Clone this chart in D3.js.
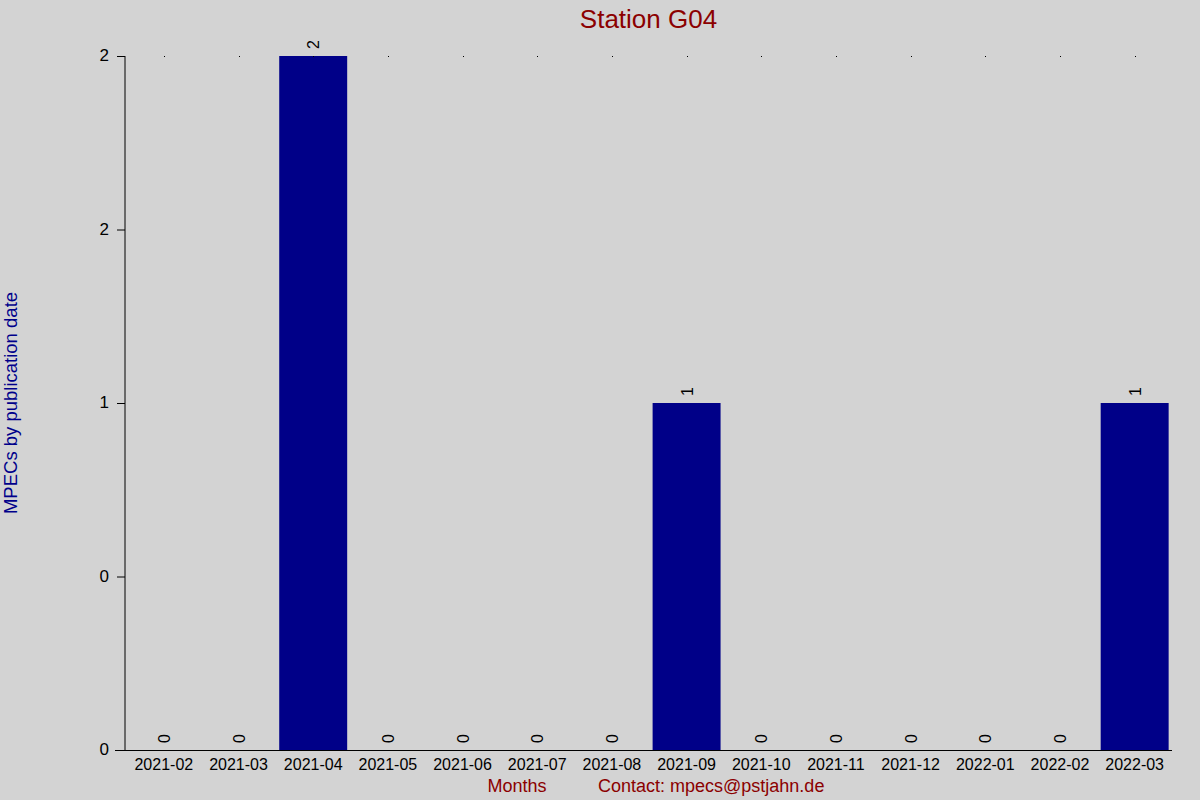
<!DOCTYPE html>
<html>
<head>
<meta charset="utf-8">
<script src="https://cdn.jsdelivr.net/npm/d3@7"></script>
<style>
  body { margin: 0; background: #d3d3d3; }
  svg { display: block; font-family: "Liberation Sans", Arial, sans-serif; }
</style>
</head>
<body>
<div id="chart"></div>
<script>
// Data
const months = ["2021-02", "2021-03", "2021-04", "2021-05", "2021-06", "2021-07", "2021-08",
    "2021-09", "2021-10", "2021-11", "2021-12", "2022-01", "2022-02", "2022-03"];
const counts = [0, 0, 2, 0, 0, 0, 0, 1, 0, 0, 0, 0, 0, 1];
const yTicks = [0, 0.5, 1, 1.5, 2];
const yTickLabels = ["0", "0", "1", "2", "2"];

const width = 1200, height = 800;
const margin = { top: 56, right: 28, bottom: 50, left: 125 };

const svg = d3.select("#chart").append("svg")
    .attr("width", width)
    .attr("height", height);

svg.append("rect")
    .attr("width", width)
    .attr("height", height)
    .attr("fill", "#d3d3d3");

const x = d3.scaleBand()
    .domain(months)
    .range([margin.left + 1.5, width - margin.right])
    .paddingInner(0.09)
    .paddingOuter(0.045);

const y = d3.scaleLinear()
    .domain([0, 2])
    .range([height - margin.bottom, margin.top]);

// Bars
svg.append("g")
    .selectAll("rect")
    .data(counts)
    .join("rect")
    .attr("x", (d, i) => x(months[i]))
    .attr("y", d => y(d))
    .attr("width", x.bandwidth())
    .attr("height", d => y(0) - y(d))
    .attr("fill", "#000088");

// Small marks along the top
svg.append("g")
    .selectAll("rect")
    .data(months)
    .join("rect")
    .attr("x", d => Math.round(x(d) + x.bandwidth() / 2))
    .attr("y", y(2))
    .attr("width", 1)
    .attr("height", 1)
    .attr("fill", "#000");

// Value labels, rotated
svg.append("g")
    .selectAll("text")
    .data(counts)
    .join("text")
    .attr("transform", (d, i) => `translate(${x(months[i]) + x.bandwidth() / 2 + 6},${y(d) - 7}) rotate(-90)`)
    .attr("text-anchor", "start")
    .style("font-size", "16px")
    .style("fill", "#000")
    .text(d => d);

// Y axis
const yAxis = svg.append("g");
yAxis.append("line")
    .attr("x1", margin.left).attr("x2", margin.left)
    .attr("y1", y(2)).attr("y2", y(0))
    .attr("stroke", "#000");
yTicks.forEach((t, i) => {
    yAxis.append("line")
        .attr("x1", margin.left - 8).attr("x2", margin.left)
        .attr("y1", y(t) + 0.5).attr("y2", y(t) + 0.5)
        .attr("stroke", "#000");
    yAxis.append("text")
        .attr("x", margin.left - 16)
        .attr("y", y(t) + 5)
        .attr("text-anchor", "end")
        .style("font-size", "17px")
        .style("fill", "#000")
        .text(yTickLabels[i]);
});

// X axis
const xAxis = svg.append("g");
xAxis.append("line")
    .attr("x1", margin.left - 10).attr("x2", width - margin.right)
    .attr("y1", y(0) + 0.5).attr("y2", y(0) + 0.5)
    .attr("stroke", "#000");
xAxis.selectAll("text")
    .data(months)
    .join("text")
    .attr("x", d => x(d) + x.bandwidth() / 2)
    .attr("y", y(0) + 20)
    .attr("text-anchor", "middle")
    .style("font-size", "16px")
    .style("fill", "#000")
    .text(d => d);

// Titles
svg.append("text")
    .attr("x", 648.5)
    .attr("y", 28)
    .attr("text-anchor", "middle")
    .style("font-size", "26px")
    .style("fill", "#8b0000")
    .text("Station G04");

svg.append("text")
    .attr("transform", `translate(17,${(y(0) + y(2)) / 2}) rotate(-90)`)
    .attr("text-anchor", "middle")
    .style("font-size", "18.5px")
    .style("fill", "#00008b")
    .text("MPECs by publication date");

svg.append("text")
    .attr("x", 517)
    .attr("y", 792)
    .attr("text-anchor", "middle")
    .style("font-size", "18px")
    .style("fill", "#8b0000")
    .text("Months");

svg.append("text")
    .attr("x", 598)
    .attr("y", 792)
    .attr("text-anchor", "start")
    .style("font-size", "18px")
    .style("fill", "#8b0000")
    .text("Contact: mpecs@pstjahn.de");
</script>
</body>
</html>
